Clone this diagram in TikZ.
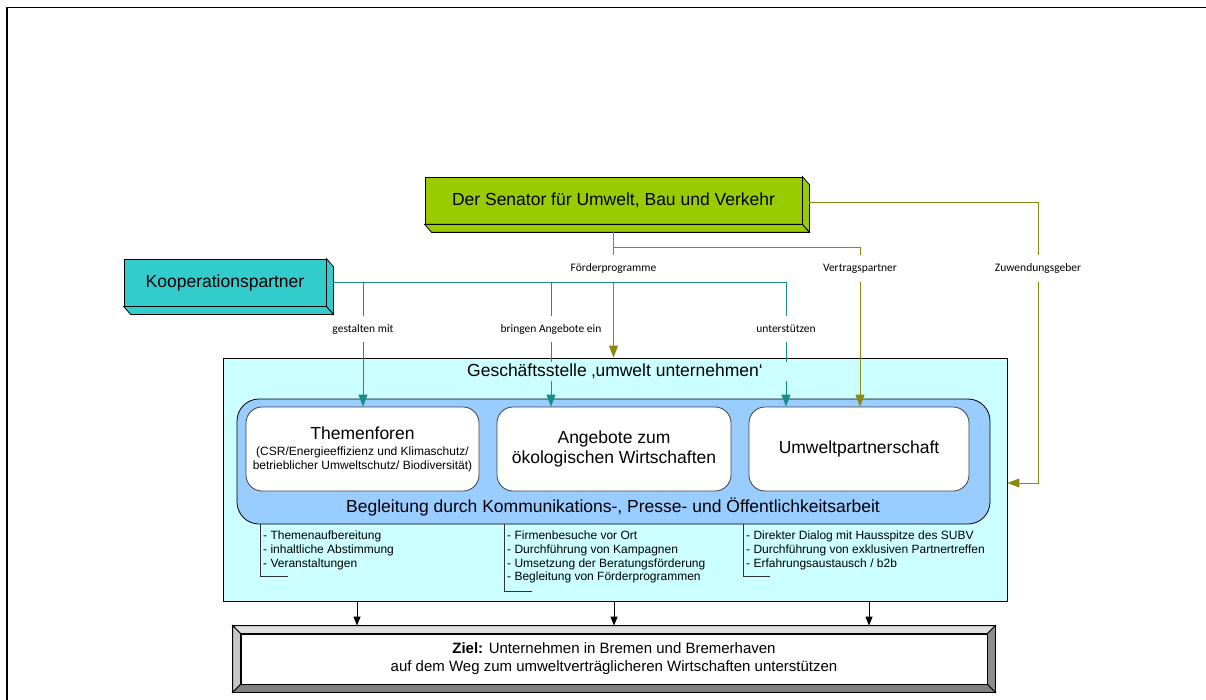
\documentclass[tikz,border=0pt]{standalone}
\usepackage{fontspec}
\setmainfont{Liberation Sans}
\newfontfamily\calib{Carlito}
\usetikzlibrary{arrows.meta,calc}
\definecolor{senc}{HTML}{99CC00}
\definecolor{koopc}{HTML}{33CCCC}
\definecolor{gsc}{HTML}{CCFFFF}
\definecolor{bandc}{HTML}{99CCFF}
\definecolor{olivec}{HTML}{8A8A10}
\definecolor{tealc}{HTML}{1A8C8C}
\newcommand\szL{\fontsize{17.5}{20}\selectfont}
\newcommand\szS{\fontsize{12}{14}\selectfont}
\newcommand\szT{\fontsize{12}{13.7}\selectfont}
\newcommand\szZ{\fontsize{15}{18}\selectfont}
\newcommand\szC{\calib\fontsize{11.5}{13}\selectfont}
\begin{document}
\begin{tikzpicture}[x=1pt,y=-1pt,
  box3d/.style={draw=black, line width=0.8pt, inner sep=0pt, font=\szL},
  wbox/.style={draw=black!75, fill=white, rounded corners=16pt, line width=0.8pt, inner sep=0pt, minimum height=84pt, align=center, font=\szL},
  lblU/.style={font=\szC, inner sep=0pt, minimum height=27pt},
  lblL/.style={font=\szC, inner sep=0pt, minimum height=26pt},
  olv/.style={draw=olivec, line width=0.9pt},
  tl/.style={draw=tealc, line width=0.9pt},
  arrO/.style={olv, -{Triangle[length=12pt,width=9pt]}},
  arrT/.style={tl, -{Triangle[length=12pt,width=9pt]}},
  arrK/.style={draw=black, line width=0.8pt, -{Triangle[length=9pt,width=7pt]}},
  lst/.style={anchor=north west, align=left, inner sep=0pt, font=\szT},
  brk/.style={draw=black!80, line width=0.7pt}
]
\useasboundingbox (0,0) rectangle (1206,700);
\draw[line width=1.8pt] (7,702) -- (7,7.5) -- (1206,7.5);

% Senator box
\node[box3d, fill=senc, minimum width=377pt, minimum height=47pt] (sen) at (613.5,200.5) {Der Senator für Umwelt, Bau und Verkehr};
\draw[fill=senc, line width=0.8pt] (sen.north east) -- ++(7,8) -- ($(sen.south east)+(7,8)$) -- (sen.south east) -- cycle;
\draw[fill=senc, line width=0.8pt] (sen.south west) -- ++(7,8) -- ($(sen.south east)+(7,8)$) -- (sen.south east) -- cycle;

% Kooperationspartner box
\node[box3d, fill=koopc, minimum width=202pt, minimum height=47pt] (koop) at (225,282.5) {Kooperationspartner};
\draw[fill=koopc, line width=0.8pt] (koop.north east) -- ++(7,8) -- ($(koop.south east)+(7,8)$) -- (koop.south east) -- cycle;
\draw[fill=koopc, line width=0.8pt] (koop.south west) -- ++(7,8) -- ($(koop.south east)+(7,8)$) -- (koop.south east) -- cycle;

% Geschaeftsstelle
\node[draw=black, fill=gsc, line width=0.8pt, minimum width=784pt, minimum height=243pt, inner sep=0pt] (gs) at (615,479.5) {};
\node[draw=black, fill=bandc, line width=0.8pt, rounded corners=22pt, minimum width=753pt, minimum height=125pt, inner sep=0pt] (band) at (613.5,461.5) {};

\node[wbox, minimum width=233pt] (th) at (362.5,449) {Themenforen\\[-4pt]{\szS (CSR/Energieeffizienz und Klimaschutz/}\\[-6pt]{\szS betrieblicher Umweltschutz/ Biodiversität)}};
\node[wbox, minimum width=234pt] (an) at (614,449) {Angebote zum\\ökologischen Wirtschaften};
\node[wbox, minimum width=220pt] (um) at (859,449) {Umweltpartnerschaft};
\node[font=\szL, inner sep=0pt] (beg) at (613,507) {Begleitung durch Kommunikations-, Presse- und Öffentlichkeitsarbeit};

% lists
\node[lst] (l1) at (263,531) {- Themenaufbereitung\\- inhaltliche Abstimmung\\- Veranstaltungen};
\node[lst] (l2) at (507,531) {- Firmenbesuche vor Ort\\- Durchführung von Kampagnen\\- Umsetzung der Beratungsförderung\\- Begleitung von Förderprogrammen};
\node[lst] (l3) at (746,531) {- Direkter Dialog mit Hausspitze des SUBV\\- Durchführung von exklusiven Partnertreffen\\- Erfahrungsaustausch / b2b};
\draw[brk] (260,524) |- (288,576);
\draw[brk] (504,524) |- (532,591);
\draw[brk] (743,524) |- (770,576);

% Senator connectors
\node[lblU] (fp) at (613.5,268.5) {Förderprogramme};
\node[lblU] (vp) at (860,268.5) {Vertragspartner};
\node[lblU] (zg) at (1038,268.5) {Zuwendungsgeber};
\coordinate (sb) at ($(sen.south)+(0,8)$);
\coordinate (sj) at (613.5,247);
\coordinate (se) at ($(sen.east)+(7,1.5)$);
\coordinate (ge) at ($(gs.east)+(0,3.5)$);
\draw[olv] (sb) -- (fp.north);
\draw[olv] (sj) -| (vp.north);
\draw[olv] (se) -| (zg.north);
\draw[arrO] (fp.south) -- (fp.south |- gs.north);
\draw[arrO] (vp.south) -- (vp.south |- um.north);
\draw[arrO] (zg.south) |- (ge);

% Kooperationspartner connectors
\node[lblL] (gm) at (363,329) {gestalten mit};
\node[lblL] (ba) at (551,329) {bringen Angebote ein};
\node[lblL] (us) at (786,329) {unterstützen};
\coordinate (ke) at ($(koop.east)+(7,0)$);
\draw[tl] (ke) -| (us.north);
\draw[tl] (ke -| gm.north) -- (gm.north);
\draw[tl] (ke -| ba.north) -- (ba.north);
\draw[arrT] (gm.south) -- (gm.south |- th.north);
\draw[arrT] (ba.south) -- (ba.south |- an.north);
\draw[arrT] (us.south) -- (us.south |- um.north);

% title (masks lines)
\node[fill=gsc, minimum width=352pt, minimum height=19pt, inner sep=0pt, font=\szL] (title) at (615,371) {Geschäftsstelle ‚umwelt unternehmen‘};

% Ziel
\node[draw=black, fill=white, line width=0.8pt, minimum width=746pt, minimum height=50pt, inner sep=0pt, font=\szZ, align=center] (ziel) at (614,659) {\textbf{Ziel:} Unternehmen in Bremen und Bremerhaven\\auf dem Weg zum umweltverträglicheren Wirtschaften unterstützen};
\coordinate (onw) at ($(ziel.north west)+(-8,-8)$);
\coordinate (one) at ($(ziel.north east)+(8,-8)$);
\coordinate (osw) at ($(ziel.south west)+(-8,8)$);
\coordinate (ose) at ($(ziel.south east)+(8,8)$);
\draw[fill=black!13, line width=0.8pt] (onw) -- (one) -- (ziel.north east) -- (ziel.north west) -- cycle;
\draw[fill=black!22, line width=0.8pt] (onw) -- (ziel.north west) -- (ziel.south west) -- (osw) -- cycle;
\draw[fill=black!45, line width=0.8pt] (one) -- (ose) -- (ziel.south east) -- (ziel.north east) -- cycle;
\draw[fill=black!50, line width=0.8pt] (osw) -- (ose) -- (ziel.south east) -- (ziel.south west) -- cycle;
\coordinate (zt) at ($(ziel.north)+(0,-8)$);
\coordinate (c1) at (357,0);
\coordinate (c2) at (614,0);
\coordinate (c3) at (869,0);
\draw[arrK] (gs.south -| c1) -- (zt -| c1);
\draw[arrK] (gs.south -| c2) -- (zt -| c2);
\draw[arrK] (gs.south -| c3) -- (zt -| c3);
\end{tikzpicture}
\end{document}
